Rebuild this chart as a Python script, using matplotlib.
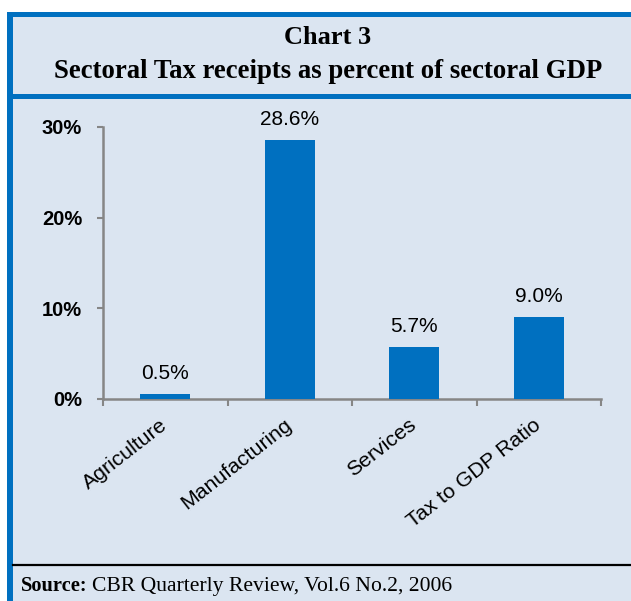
import matplotlib.pyplot as plt
from matplotlib.patches import Rectangle
from matplotlib.lines import Line2D
from matplotlib.ticker import FuncFormatter

# chart data
categories = ["Agriculture", "Manufacturing", "Services", "Tax to GDP Ratio"]
values = [0.5, 28.6, 5.7, 9.0]
yticks = [0, 10, 20, 30]

bg = "#DBE5F1"
frame_blue = "#0070C0"
bar_blue = "#0070C0"
axis_grey = "#868686"

W, H = 631, 601
fig = plt.figure(figsize=(W / 100, H / 100), dpi=100)
fig.patch.set_facecolor("white")


def fx(px):
    return px / W


def fy(py):
    return 1 - py / H


# panel background and frame
fig.add_artist(Rectangle((fx(10), 0), 1 - fx(10), fy(14), transform=fig.transFigure,
                         facecolor=bg, edgecolor="none", zorder=0))
fig.add_artist(Rectangle((fx(7), 0), fx(6), fy(12), transform=fig.transFigure,
                         facecolor=frame_blue, edgecolor="none", zorder=1))
fig.add_artist(Rectangle((fx(7), fy(17)), 1 - fx(7), fy(12) - fy(17), transform=fig.transFigure,
                         facecolor=frame_blue, edgecolor="none", zorder=1))
fig.add_artist(Rectangle((fx(13), fy(99)), 1 - fx(13), fy(94) - fy(99), transform=fig.transFigure,
                         facecolor=frame_blue, edgecolor="none", zorder=1))
fig.add_artist(Line2D([fx(13), 1], [fy(565), fy(565)], transform=fig.transFigure,
                      color="black", lw=1.6, zorder=1))

# titles
fig.text(fx(328), fy(37), "Chart 3", ha="center", va="center", fontsize=19,
         fontweight="bold", family="Liberation Serif")
fig.text(fx(328), fy(71), "Sectoral Tax receipts as percent of sectoral GDP", ha="center",
         va="center", fontsize=19.3, fontweight="bold", family="Liberation Serif")

# source line
fig.text(fx(21), fy(586), "Source:", ha="left", va="center", fontsize=14.7,
         fontweight="bold", family="Liberation Serif")
fig.text(fx(92), fy(586), "CBR Quarterly Review, Vol.6 No.2, 2006", ha="left", va="center",
         fontsize=15.6, family="Liberation Serif")

# bar chart
ax = fig.add_axes([fx(103), fy(399), fx(601) - fx(103), fy(127) - fy(399)])
ax.set_facecolor("none")
x = list(range(len(categories)))
ax.bar(x, values, width=0.4, color=bar_blue, zorder=3)
ax.set_xlim(-0.5, len(categories) - 0.5)
ax.set_ylim(0, 30)
ax.set_yticks(yticks)
ax.yaxis.set_major_formatter(FuncFormatter(lambda v, p: f"{v:.0f}%"))
for lab in ax.get_yticklabels():
    lab.set_fontweight("bold")
    lab.set_family("Liberation Sans")
    lab.set_fontsize(14.5)

ax.set_xticks([i - 0.5 for i in range(len(categories) + 1)], minor=False)
ax.set_xticklabels([])
ax.set_xticks(x, minor=True)
ax.set_xticklabels(categories, minor=True, rotation=38, ha="right", va="center",
                   rotation_mode="anchor", fontsize=15.3, family="Liberation Sans")
ax.tick_params(axis="x", which="minor", length=0, pad=17)
ax.tick_params(axis="x", which="major", length=5, width=1.5, color=axis_grey, direction="out")
ax.tick_params(axis="y", length=4.5, width=1.5, color=axis_grey, direction="out", pad=10.5)

for side in ["top", "right"]:
    ax.spines[side].set_visible(False)
for side in ["left", "bottom"]:
    ax.spines[side].set_color(axis_grey)
    ax.spines[side].set_linewidth(1.8)

for i, v in enumerate(values):
    ax.annotate(f"{v:.1f}%", (x[i], v), xytext=(0, 8), textcoords="offset points",
                ha="center", va="bottom", fontsize=15, family="Liberation Sans")

fig.savefig("out.png", dpi=100)
